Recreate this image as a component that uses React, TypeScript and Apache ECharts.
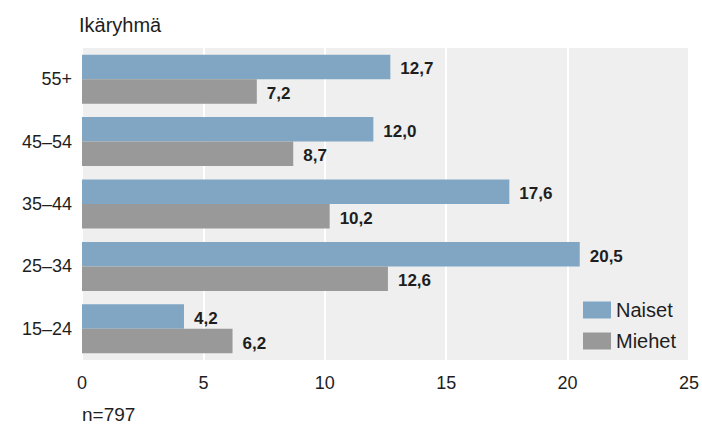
import React, { useEffect, useRef } from "react";
import * as echarts from "echarts";

const categories = ["15–24", "25–34", "35–44", "45–54", "55+"];
const naiset = [4.2, 20.5, 17.6, 12.0, 12.7];
const miehet = [6.2, 12.6, 10.2, 8.7, 7.2];
const xTicks = { min: 0, max: 25, interval: 5 };

const FONT = "'Liberation Sans', Arial, Helvetica, sans-serif";
const TEXT = "#1e1e1e";

const fmt = (p: any) => Number(p.value).toFixed(1).replace(".", ",");

export default function App() {
  const ref = useRef<HTMLDivElement>(null);
  useEffect(() => {
    if (!ref.current) return;
    const chart = echarts.init(ref.current, undefined, { renderer: "svg" });
    const labelStyle = {
      show: true,
      position: "right" as const,
      distance: 10,
      offset: [0, 2],
      formatter: fmt,
      color: TEXT,
      fontFamily: FONT,
      fontSize: 17,
      fontWeight: "bold" as const,
    };
    chart.setOption({
      animation: false,
      backgroundColor: "#ffffff",
      textStyle: { fontFamily: FONT },
      grid: {
        left: 82,
        top: 48,
        width: 611,
        height: 312,
        show: true,
        backgroundColor: "#efefef",
        borderWidth: 0,
      },
      graphic: [
        {
          type: "text",
          left: 79,
          top: 15,
          style: { text: "Ikäryhmä", fill: TEXT, font: `20px ${FONT}` },
        },
        {
          type: "text",
          left: 82,
          top: 405,
          style: { text: "n=797", fill: TEXT, font: `19px ${FONT}` },
        },
      ],
      legend: {
        data: ["Naiset", "Miehet"],
        orient: "vertical",
        left: 583,
        top: 300,
        itemWidth: 28,
        itemHeight: 17,
        itemGap: 11,
        icon: "rect",
        textStyle: { color: TEXT, fontSize: 20, fontFamily: FONT },
        padding: 0,
      },
      xAxis: {
        type: "value",
        min: xTicks.min,
        max: xTicks.max,
        interval: xTicks.interval,
        axisLine: { show: false },
        axisTick: { show: false },
        axisLabel: { color: TEXT, fontSize: 18, fontFamily: FONT, margin: 14 },
        splitLine: { show: true, lineStyle: { color: "#ffffff", width: 2 } },
      },
      yAxis: {
        type: "category",
        data: categories,
        axisLine: { show: false },
        axisTick: { show: false },
        axisLabel: { color: TEXT, fontSize: 18, fontFamily: FONT, margin: 10 },
        splitLine: { show: false },
      },
      series: [
        {
          name: "Naiset",
          type: "bar",
          data: naiset,
          barWidth: 24.5,
          barGap: "0%",
          itemStyle: { color: "#80a6c4" },
          label: labelStyle,
        },
        {
          name: "Miehet",
          type: "bar",
          data: miehet,
          barWidth: 24.5,
          barGap: "0%",
          itemStyle: { color: "#999999" },
          label: labelStyle,
        },
      ],
    });
    return () => chart.dispose();
  }, []);
  return (
    <div
      ref={ref}
      style={{ position: "fixed", left: 0, top: 0, width: 702, height: 427 }}
    />
  );
}
